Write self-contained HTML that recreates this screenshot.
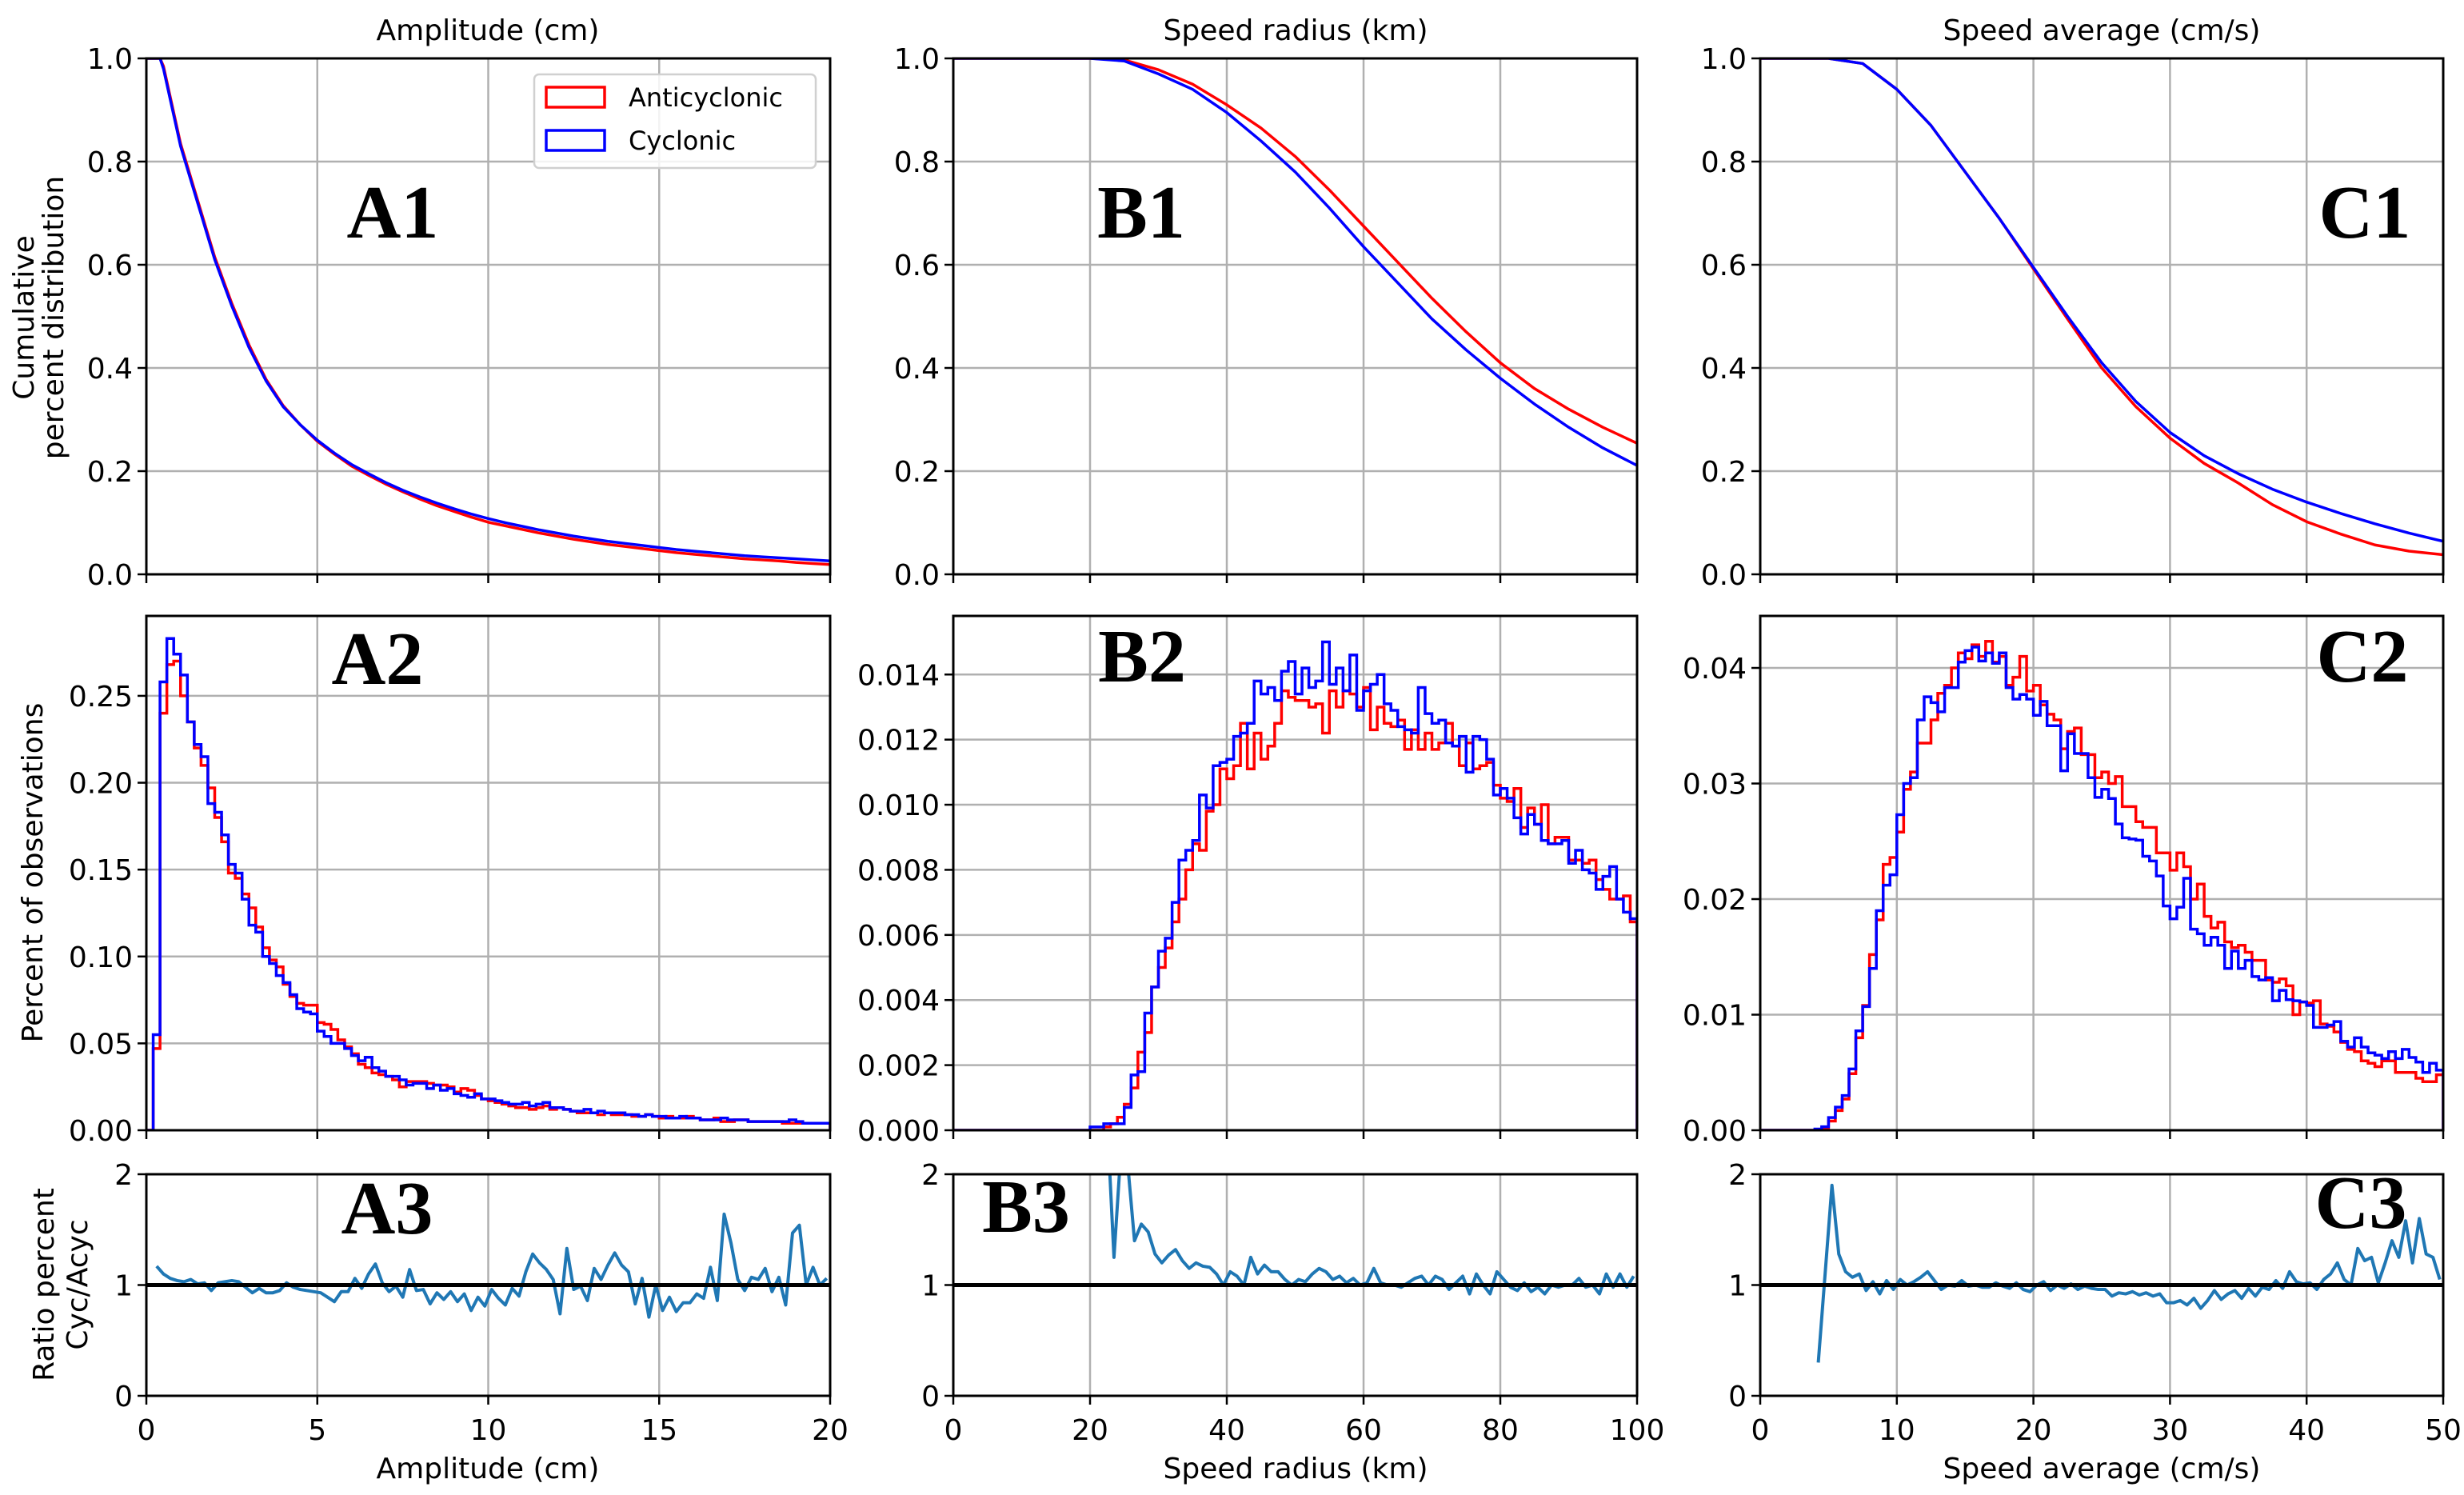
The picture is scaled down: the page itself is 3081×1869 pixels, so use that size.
<!DOCTYPE html>
<html><head><meta charset="utf-8"><style>
html,body{margin:0;padding:0;background:#fff;}
svg{display:block;}
text{font-family:"DejaVu Sans","Liberation Sans",sans-serif;fill:#000;}
.big{font-family:"Liberation Serif",serif;font-weight:bold;font-size:94px;}
</style></head><body>
<svg id="fig" width="3081" height="1869" viewBox="0 0 3081 1869" xmlns="http://www.w3.org/2000/svg"></svg>
<script>
// ---------- DATA ----------
// A: amplitude, bins 0.2 cm
const ampHistCyc=[0,0.055,0.258,0.283,0.274,0.262,0.235,0.222,0.215,0.188,0.183,0.170,0.153,0.148,0.133,0.118,0.114,0.100,0.096,0.089,0.085,0.078,0.070,0.068,0.067,0.057,0.054,0.050,0.050,0.047,0.043,0.040,0.042,0.036,0.034,0.031,0.031,0.029,0.026,0.027,
0.027,0.024,0.026,0.023,0.024,0.021,0.020,0.019,0.021,0.018,0.018,0.017,0.016,0.015,0.015,0.016,0.014,0.015,0.016,0.013,0.013,0.012,0.011,0.011,0.012,0.010,0.011,0.010,0.010,0.010,0.009,0.009,0.008,0.009,0.008,0.008,0.007,0.007,0.008,0.007,0.007,0.006,0.006,0.006,0.007,0.006,0.006,0.006,0.005,0.005,0.005,0.005,0.005,0.005,0.006,0.005,0.004,0.004,0.004,0.004];
const ampHistAcyc=[0,0.047,0.240,0.268,0.270,0.250,0.235,0.220,0.210,0.197,0.180,0.166,0.148,0.145,0.136,0.128,0.117,0.105,0.098,0.094,0.084,0.077,0.073,0.072,0.072,0.062,0.061,0.058,0.052,0.048,0.044,0.038,0.036,0.033,0.032,0.031,0.029,0.025,0.028,0.028,
0.028,0.027,0.026,0.026,0.025,0.022,0.024,0.023,0.020,0.018,0.017,0.016,0.015,0.014,0.013,0.013,0.012,0.013,0.014,0.012,0.013,0.012,0.011,0.010,0.010,0.010,0.009,0.010,0.009,0.009,0.009,0.008,0.008,0.009,0.008,0.007,0.008,0.007,0.007,0.008,0.007,0.006,0.006,0.007,0.005,0.005,0.006,0.006,0.005,0.005,0.005,0.005,0.005,0.004,0.004,0.004,0.004,0.004,0.004,0.004];
const ampBinStart=0, ampBinWidth=0.2;
const ampCdfX=[0,0.4,0.5,1,1.5,2,2.5,3,3.5,4,4.5,5,5.5,6,6.5,7,7.5,8,8.5,9,9.5,10,10.5,11,11.5,12,12.5,13,13.5,14,14.5,15,15.5,16,16.5,17,17.5,18,18.5,19,19.5,20];
const ampCdfCyc=[1,1,0.98,0.83,0.72,0.61,0.52,0.44,0.375,0.325,0.29,0.26,0.235,0.213,0.195,0.178,0.163,0.15,0.138,0.127,0.117,0.108,0.1,0.093,0.086,0.08,0.074,0.069,0.064,0.06,0.056,0.052,0.048,0.045,0.042,0.039,0.036,0.034,0.032,0.03,0.028,0.026];
const ampCdfAcyc=[1,1,0.985,0.835,0.725,0.615,0.525,0.445,0.378,0.327,0.29,0.258,0.233,0.21,0.192,0.175,0.16,0.146,0.133,0.122,0.111,0.101,0.094,0.087,0.08,0.074,0.068,0.063,0.058,0.054,0.05,0.046,0.042,0.039,0.036,0.033,0.03,0.028,0.026,0.023,0.021,0.019];
const ampRatioStart=0.3, ampRatioStep=0.2;
const ampRatio=[1.17,1.10,1.06,1.04,1.03,1.05,1.01,1.02,0.95,1.02,1.03,1.04,1.03,0.98,0.93,0.97,0.93,0.93,0.95,1.02,0.98,0.96,0.95,0.94,0.93,0.89,0.85,0.94,0.94,1.06,0.97,1.10,1.19,1.02,0.94,0.99,0.89,1.14,0.95,0.96,0.83,0.93,0.87,0.94,0.85,0.92,0.77,0.89,0.81,0.96,0.88,0.82,0.97,0.90,1.12,1.28,1.20,1.14,1.05,0.74,1.33,0.96,0.99,0.86,1.15,1.05,1.18,1.29,1.18,1.12,0.83,1.06,0.71,1.00,0.77,0.89,0.76,0.84,0.84,0.92,0.88,1.16,0.86,1.64,1.38,1.05,0.95,1.07,1.05,1.15,0.94,1.07,0.82,1.47,1.54,1.00,1.16,1.00,1.06];

// B: speed radius, bins 1 km
const radHistCyc=[0,0,0,0,0,0,0,0,0,0,0,0,0,0,0,0,0,0,0,0,0.0001,0.0001,0.0002,0.0002,0.0002,0.0007,0.0017,0.0018,0.0036,0.0044,0.0055,0.0059,0.0070,0.0083,0.0086,0.0089,0.0103,0.0099,0.0112,0.0113,0.0114,0.0121,0.0122,0.0125,0.0138,0.0134,0.0136,0.0132,0.0141,0.0144,0.0134,0.0142,0.0136,0.0138,0.0150,0.0137,0.0142,0.0135,0.0146,0.0129,0.0135,0.0137,0.0140,0.0131,0.0129,0.0124,0.0123,0.0122,0.0136,0.0128,0.0125,0.0126,0.0119,0.0118,0.0121,0.0110,0.0121,0.0120,0.0114,0.0103,0.0105,0.0102,0.0096,0.0091,0.0097,0.0094,0.0089,0.0088,0.0088,0.0089,0.0082,0.0086,0.0080,0.0079,0.0074,0.0078,0.0081,0.0071,0.0067,0.0065];
const radHistAcyc=[0,0,0,0,0,0,0,0,0,0,0,0,0,0,0,0,0,0,0,0,0,0,0.0001,0.0002,0.0004,0.0008,0.0013,0.0024,0.0030,0.0044,0.0050,0.0056,0.0064,0.0071,0.0080,0.0088,0.0086,0.0098,0.0100,0.0111,0.0108,0.0112,0.0125,0.0111,0.0122,0.0114,0.0118,0.0125,0.0135,0.0133,0.0132,0.0132,0.0130,0.0131,0.0122,0.0135,0.0130,0.0135,0.0134,0.0130,0.0136,0.0123,0.0130,0.0125,0.0124,0.0126,0.0117,0.0123,0.0117,0.0122,0.0117,0.0119,0.0125,0.0118,0.0112,0.0119,0.0111,0.0112,0.0113,0.0106,0.0102,0.0101,0.0105,0.0093,0.0099,0.0094,0.0100,0.0088,0.0090,0.0090,0.0083,0.0083,0.0082,0.0083,0.0077,0.0074,0.0071,0.0071,0.0072,0.0064];
const radBinStart=0, radBinWidth=1;
const radCdfX=[0,5,10,15,20,25,30,35,40,45,50,55,60,65,70,75,80,85,90,95,100];
const radCdfCyc=[1,1,1,1,1,0.995,0.97,0.94,0.895,0.84,0.78,0.71,0.635,0.565,0.495,0.435,0.38,0.33,0.285,0.245,0.211];
const radCdfAcyc=[1,1,1,1,1,0.997,0.978,0.95,0.91,0.865,0.81,0.745,0.675,0.605,0.535,0.47,0.41,0.36,0.32,0.285,0.254];
const radRatioStart=22.5, radRatioStep=1;
const radRatio=[2.5,1.25,2.2,2.1,1.4,1.55,1.48,1.28,1.2,1.27,1.32,1.22,1.15,1.2,1.17,1.16,1.1,1.0,1.12,1.08,1.0,1.25,1.1,1.18,1.12,1.12,1.05,1.0,1.05,1.03,1.1,1.15,1.12,1.05,1.08,1.02,1.06,1.0,1.02,1.15,1.02,1.0,1.0,0.98,1.02,1.06,1.08,1.0,1.08,1.05,0.96,1.02,1.08,0.92,1.1,1.0,0.92,1.12,1.05,0.98,0.95,1.02,0.94,0.98,0.92,1.0,0.98,1.0,1.0,1.06,0.98,1.0,0.92,1.1,0.98,1.1,0.98,1.08];

// C: speed average, bins 0.5 cm/s
const spdHistCyc=[0,0,0,0,0,0,0,0,0.0001,0.0003,0.0011,0.0020,0.0030,0.0053,0.0086,0.0107,0.0140,0.0190,0.0212,0.0221,0.0273,0.0300,0.0305,0.0355,0.0375,0.0370,0.0362,0.0383,0.0383,0.0405,0.0415,0.0418,0.0406,0.0413,0.0404,0.0413,0.0383,0.0373,0.0377,0.0373,0.0359,0.0371,0.0350,0.0350,0.0311,0.0343,0.0326,0.0326,0.0305,0.0288,0.0295,0.0287,0.0265,0.0253,0.0252,0.0251,0.0237,0.0233,0.0220,0.0194,0.0183,0.0193,0.0218,0.0174,0.0170,0.0160,0.0167,0.0160,0.0140,0.0155,0.0140,0.0147,0.0133,0.0130,0.0132,0.0112,0.0121,0.0113,0.0112,0.0111,0.0108,0.0089,0.0089,0.0091,0.0094,0.0077,0.0072,0.0080,0.0072,0.0067,0.0065,0.0062,0.0068,0.0062,0.0070,0.0063,0.0059,0.0050,0.0058,0.0052];
const spdHistAcyc=[0,0,0,0,0,0,0,0,0,0.0002,0.0008,0.0017,0.0027,0.0049,0.0080,0.0108,0.0152,0.0182,0.0230,0.0236,0.0258,0.0295,0.0310,0.0335,0.0335,0.0355,0.0378,0.0385,0.0400,0.0413,0.0408,0.0420,0.0410,0.0423,0.0405,0.0410,0.0385,0.0392,0.0410,0.0380,0.0385,0.0368,0.0360,0.0355,0.0330,0.0345,0.0348,0.0325,0.0325,0.0305,0.0310,0.0300,0.0306,0.0280,0.0280,0.0267,0.0262,0.0262,0.0240,0.0240,0.0225,0.0240,0.0228,0.0200,0.0213,0.0185,0.0175,0.0180,0.0163,0.0158,0.0160,0.0154,0.0147,0.0147,0.0130,0.0128,0.0131,0.0125,0.0100,0.0111,0.0110,0.0112,0.0092,0.0090,0.0085,0.0076,0.0070,0.0068,0.0060,0.0058,0.0055,0.0060,0.0060,0.0050,0.0050,0.0050,0.0045,0.0042,0.0042,0.0048];
const spdBinStart=0, spdBinWidth=0.5;
const spdCdfX=[0,2.5,5,7.5,10,12.5,15,17.5,20,22.5,25,27.5,30,32.5,35,37.5,40,42.5,45,47.5,50];
const spdCdfCyc=[1,1,1,0.99,0.94,0.87,0.78,0.69,0.595,0.5,0.41,0.335,0.275,0.23,0.195,0.165,0.14,0.118,0.098,0.08,0.064];
const spdCdfAcyc=[1,1,1,0.99,0.94,0.87,0.78,0.69,0.592,0.495,0.40,0.325,0.264,0.215,0.177,0.135,0.102,0.078,0.057,0.045,0.038];
const spdRatioStart=4.25, spdRatioStep=0.5;
const spdRatio=[0.30,1.10,1.90,1.28,1.12,1.07,1.10,0.95,1.03,0.92,1.04,0.96,1.05,1.00,1.03,1.07,1.12,1.04,0.96,1.00,0.99,1.04,0.99,1.00,0.98,0.98,1.02,0.99,0.97,1.02,0.96,0.94,1.00,1.03,0.95,1.00,0.97,1.01,0.96,0.99,0.97,0.96,0.96,0.90,0.93,0.92,0.94,0.91,0.93,0.90,0.92,0.84,0.84,0.86,0.82,0.88,0.79,0.86,0.95,0.87,0.92,0.95,0.88,0.97,0.90,0.98,0.96,1.04,0.97,1.12,1.03,1.01,1.02,0.96,1.05,1.10,1.20,1.05,1.00,1.33,1.22,1.25,1.02,1.20,1.40,1.25,1.58,1.20,1.60,1.28,1.25,1.05];

const ampXTicks=[0,5,10,15,20], radXTicks=[0,20,40,60,80,100], spdXTicks=[0,10,20,30,40,50];
const cdfYTicks=[0,0.2,0.4,0.6,0.8,1.0];
const ampYTicks=[0,0.05,0.10,0.15,0.20,0.25], radYTicks=[0,0.002,0.004,0.006,0.008,0.010,0.012,0.014], spdYTicks=[0,0.01,0.02,0.03,0.04];
const ratioYTicks=[0,1,2];

// ---------- DRAWING ----------
const NS="http://www.w3.org/2000/svg";
const svg=document.getElementById('fig');
function mk(tag,attrs,parent){const e=document.createElementNS(NS,tag);for(const k in attrs)e.setAttribute(k,attrs[k]);(parent||svg).appendChild(e);return e;}
const cols={A:[183,1038],B:[1192,2047],C:[2201,3055]};
const rows={1:[73,718],2:[770,1413],3:[1468,1745]};
let clipN=0;
function panel(id,col,row,xmin,xmax,ymin,ymax,xticks,yticks,fmt,xlab){
  const [x0,x1]=cols[col],[y0,y1]=rows[row];
  const g=mk('g',{});
  
  
  const sx=v=>x0+(v-xmin)/(xmax-xmin)*(x1-x0);
  const sy=v=>y1-(v-ymin)/(ymax-ymin)*(y1-y0);
  const grid=mk('g',{},g);
  
  
  xticks.forEach(t=>mk('line',{x1:sx(t),x2:sx(t),y1:y0,y2:y1,stroke:'#b0b0b0','stroke-width':2.5},grid));
  yticks.forEach(t=>mk('line',{x1:x0,x2:x1,y1:sy(t),y2:sy(t),stroke:'#b0b0b0','stroke-width':2.5},grid));
  const cid='clip'+(clipN++);
  const cp=mk('clipPath',{id:cid},g);mk('rect',{x:x0,y:y0,width:x1-x0,height:y1-y0},cp);
  const data=mk('g',{'clip-path':'url(#'+cid+')'},g);
  
  
  const frame=mk('rect',{x:x0,y:y0,width:x1-x0,height:y1-y0,fill:'none',stroke:'#000','stroke-width':3},g);
  
  
  xticks.forEach(t=>{
    mk('line',{x1:sx(t),x2:sx(t),y1:y1,y2:y1+11,stroke:'#000','stroke-width':2.5},g);
    if(xlab){const tx=mk('text',{x:sx(t),y:1800,'font-size':36,'text-anchor':'middle'},g);tx.textContent=String(t);
      
      }
  });
  yticks.forEach(t=>{
    mk('line',{x1:x0-11,x2:x0,y1:sy(t),y2:sy(t),stroke:'#000','stroke-width':2.5},g);
    const ty=mk('text',{x:x0-17,y:sy(t)+13,'font-size':36,'text-anchor':'end'},g);ty.textContent=fmt(t);
    
    
  });
  return {sx,sy,data,g};
}
function stepHist(p,start,w,vals,color,name){
  let d='M'+p.sx(start)+','+p.sy(0);
  vals.forEach((v,i)=>{d+=' V'+p.sy(v)+' H'+p.sx(start+(i+1)*w);});
  d+=' V'+p.sy(0);
  const e=mk('path',{d:d,fill:'none',stroke:color,'stroke-width':3.5,'stroke-linejoin':'miter'},p.data);
  
  
}
function line(p,xs,vals,color,name,w){
  const d=vals.map((v,i)=>(i?'L':'M')+p.sx(xs[i])+','+p.sy(v)).join(' ');
  const e=mk('path',{d:d,fill:'none',stroke:color,'stroke-width':w||3.5,'stroke-linejoin':'round'},p.data);
  
  
}
function ratio(p,start,step,vals,xmax,name){
  line(p,vals.map((v,i)=>start+i*step),vals,'#1f77b4',name,4);
  const h=mk('line',{x1:p.sx(0),x2:p.sx(xmax),y1:p.sy(1),y2:p.sy(1),stroke:'#000','stroke-width':5},p.g);
  
  
}
const f1=t=>t.toFixed(1),f2=t=>t.toFixed(2),f3=t=>t.toFixed(3),f0=t=>String(t);

const A1=panel('a1','A',1,0,20,0,1,ampXTicks,cdfYTicks,f1,false);
line(A1,ampCdfX,ampCdfAcyc,'#ff0000','cdf-anticyclonic-amplitude');
line(A1,ampCdfX,ampCdfCyc,'#0000ff','cdf-cyclonic-amplitude');
const B1=panel('b1','B',1,0,100,0,1,radXTicks,cdfYTicks,f1,false);
line(B1,radCdfX,radCdfAcyc,'#ff0000','cdf-anticyclonic-radius');
line(B1,radCdfX,radCdfCyc,'#0000ff','cdf-cyclonic-radius');
const C1=panel('c1','C',1,0,50,0,1,spdXTicks,cdfYTicks,f1,false);
line(C1,spdCdfX,spdCdfAcyc,'#ff0000','cdf-anticyclonic-speed');
line(C1,spdCdfX,spdCdfCyc,'#0000ff','cdf-cyclonic-speed');

const A2=panel('a2','A',2,0,20,0,0.296,ampXTicks,ampYTicks,f2,false);
stepHist(A2,ampBinStart,ampBinWidth,ampHistAcyc,'#ff0000','hist-anticyclonic-amplitude');
stepHist(A2,ampBinStart,ampBinWidth,ampHistCyc,'#0000ff','hist-cyclonic-amplitude');
const B2=panel('b2','B',2,0,100,0,0.0158,radXTicks,radYTicks,f3,false);
stepHist(B2,radBinStart,radBinWidth,radHistAcyc,'#ff0000','hist-anticyclonic-radius');
stepHist(B2,radBinStart,radBinWidth,radHistCyc,'#0000ff','hist-cyclonic-radius');
const C2=panel('c2','C',2,0,50,0,0.0445,spdXTicks,spdYTicks,f2,false);
stepHist(C2,spdBinStart,spdBinWidth,spdHistAcyc,'#ff0000','hist-anticyclonic-speed');
stepHist(C2,spdBinStart,spdBinWidth,spdHistCyc,'#0000ff','hist-cyclonic-speed');

const A3=panel('a3','A',3,0,20,0,2,ampXTicks,ratioYTicks,f0,true);
ratio(A3,ampRatioStart,ampRatioStep,ampRatio,20,'ratio-line-amplitude');
const B3=panel('b3','B',3,0,100,0,2,radXTicks,ratioYTicks,f0,true);
ratio(B3,radRatioStart,radRatioStep,radRatio,100,'ratio-line-radius');
const C3=panel('c3','C',3,0,50,0,2,spdXTicks,ratioYTicks,f0,true);
ratio(C3,spdRatioStart,spdRatioStep,spdRatio,50,'ratio-line-speed');
</script>
<script>
// static labels
(function(){
const NS="http://www.w3.org/2000/svg";const svg=document.getElementById('fig');
function t(txt,attrs,name){const e=document.createElementNS(NS,'text');for(const k in attrs)e.setAttribute(k,attrs[k]);e.textContent=txt;


svg.appendChild(e);return e;}
t('Amplitude (cm)',{x:610,y:50,'font-size':36,'text-anchor':'middle'},'column-title-amplitude');
t('Speed radius (km)',{x:1620,y:50,'font-size':36,'text-anchor':'middle'},'column-title-radius');
t('Speed average (cm/s)',{x:2628,y:50,'font-size':36,'text-anchor':'middle'},'column-title-speed');
t('Amplitude (cm)',{x:610,y:1848,'font-size':36,'text-anchor':'middle'},'x-axis-title-amplitude');
t('Speed radius (km)',{x:1620,y:1848,'font-size':36,'text-anchor':'middle'},'x-axis-title-radius');
t('Speed average (cm/s)',{x:2628,y:1848,'font-size':36,'text-anchor':'middle'},'x-axis-title-speed');
t('Cumulative',{x:0,y:0,'font-size':36,'text-anchor':'middle',transform:'translate(42,397) rotate(-90)'},'y-axis-title-cumulative');
t('percent distribution',{x:0,y:0,'font-size':36,'text-anchor':'middle',transform:'translate(79,397) rotate(-90)'},'y-axis-title-cumulative-2');
t('Percent of observations',{x:0,y:0,'font-size':36,'text-anchor':'middle',transform:'translate(53,1091) rotate(-90)'},'y-axis-title-percent');
t('Ratio percent',{x:0,y:0,'font-size':36,'text-anchor':'middle',transform:'translate(67,1606) rotate(-90)'},'y-axis-title-ratio');
t('Cyc/Acyc',{x:0,y:0,'font-size':36,'text-anchor':'middle',transform:'translate(109,1606) rotate(-90)'},'y-axis-title-ratio-2');
const L=[['A1',491,297],['B1',1427,297],['C1',2957,297],['A2',472,855],['B2',1428,852],['C2',2954,852],['A3',484,1542],['B3',1283,1540],['C3',2952,1535]];
L.forEach(l=>{const e=t(l[0],{x:l[1],y:l[2],'text-anchor':'middle',class:'big'},'panel-label-'+l[0].toLowerCase());});
// legend
const g=document.createElementNS(NS,'g');svg.appendChild(g);


function r(a){const e=document.createElementNS(NS,'rect');for(const k in a)e.setAttribute(k,a[k]);g.appendChild(e);return e;}
r({x:668,y:93,width:352,height:117,rx:6,fill:'#fff','fill-opacity':0.85,stroke:'#d0d0d0','stroke-width':2.5});
const p1=r({x:683,y:109,width:73,height:25,fill:'none',stroke:'#ff0000','stroke-width':3.5});


const p2=r({x:683,y:163,width:73,height:25,fill:'none',stroke:'#0000ff','stroke-width':3.5});


t('Anticyclonic',{x:786,y:133,'font-size':32},'legend-entry-anticyclonic');
t('Cyclonic',{x:786,y:187,'font-size':32},'legend-entry-cyclonic');
})();
</script>
</body></html>
